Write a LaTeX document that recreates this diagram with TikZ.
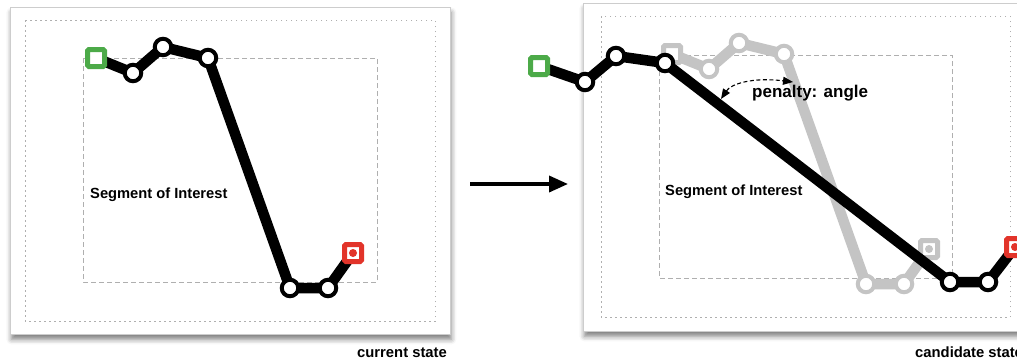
\documentclass[tikz,border=0pt]{standalone}
\usepackage{fontspec}
\setmainfont{Liberation Sans}
\usetikzlibrary{arrows.meta,shadows.blur}
\definecolor{sqgreen}{RGB}{76,170,72}
\definecolor{sqred}{RGB}{226,52,42}
\definecolor{ghost}{RGB}{196,196,196}
\definecolor{frame}{RGB}{205,205,205}
\definecolor{guide}{RGB}{175,175,175}
\tikzset{
  panel/.style={draw=frame,line width=0.8,fill=white,blur shadow={shadow xshift=1pt,shadow yshift=-5pt,shadow blur radius=5pt,shadow opacity=50}},
  outerguide/.style={draw=guide,line width=0.9,dash pattern=on 1.5 off 3.5},
  innerguide/.style={draw=guide,line width=0.9,dash pattern=on 5 off 3},
  track/.style={line width=10.5,line join=round,line cap=round},
  vtx/.style={circle,draw=#1,line width=4,fill=white,minimum size=16.5,inner sep=0},
  vtx/.default=black,
  startsq/.style={rectangle,draw=#1,line width=5,fill=white,minimum size=17,inner sep=0,rounded corners=1.5},
  endsq/.style={rectangle,draw=#1,line width=5,fill=white,minimum size=17,inner sep=0,rounded corners=1.5},
  lbl/.style={inner sep=0,font=\bfseries\fontsize{14.7}{17}\selectfont,anchor=base west},
  captiontext/.style={inner sep=0,font=\bfseries\fontsize{14.8}{17}\selectfont,anchor=base west},
}
\begin{document}
\begin{tikzpicture}[x=1pt,y=-1pt]
\useasboundingbox (0,0) rectangle (1017,362);
% panels
\node[panel,minimum width=440,minimum height=327,inner sep=0,anchor=north west] (pL) at (10,7) {};
\node[panel,minimum width=442,minimum height=328,inner sep=0,anchor=north west] (pR) at (583,3) {};
\draw[outerguide] (25,20) rectangle (435,321);
\draw[innerguide] (83,58) rectangle (377,282);
\draw[outerguide] (601,16) rectangle (1010,317);
\draw[innerguide] (659,55) rectangle (952,278);
\node[lbl] (soiL) at (90,198) {Segment of Interest};
\node[lbl] (soiR) at (665,195) {Segment of Interest};
% ---- left: current state
\coordinate (a0) at (96,58);
\coordinate (a1) at (133,73);
\coordinate (a2) at (163,47);
\coordinate (a3) at (208,58);
\coordinate (a4) at (290,288);
\coordinate (a5) at (328,288);
\coordinate (a6) at (353,253);
\draw[track] (a0) -- (a1) -- (a2) -- (a3) -- (a4) -- (a5) -- (a6);
\node[startsq=sqgreen] (sA) at (a0) {};
\foreach \i in {1,...,5} \node[vtx] (vA\i) at (a\i) {};
\node[endsq=sqred] (eA) at (a6) {};
\fill[sqred] (eA.center) circle (4);
% ---- right: ghost of current state
\coordinate (g0) at (672,54);
\coordinate (g1) at (709,69);
\coordinate (g2) at (739,43);
\coordinate (g3) at (784,54);
\coordinate (g4) at (866,284);
\coordinate (g5) at (904,284);
\coordinate (g6) at (929,249);
\draw[track,ghost] (g0) -- (g1) -- (g2) -- (g3) -- (g4) -- (g5) -- (g6);
\node[startsq=ghost] (sG) at (g0) {};
\foreach \i in {1,...,5} \node[vtx=ghost] (vG\i) at (g\i) {};
\node[endsq=ghost] (eG) at (g6) {};
\fill[ghost] (eG.center) circle (4);
% ---- right: candidate state
\coordinate (b0) at (539,66);
\coordinate (b1) at (585,82);
\coordinate (b2) at (616,56);
\coordinate (b3) at (665,63);
\coordinate (b4) at (950,282);
\coordinate (b5) at (988,282);
\coordinate (b6) at (1015,247);
\draw[track] (b0) -- (b1) -- (b2) -- (b3) -- (b4) -- (b5) -- (b6);
\node[startsq=sqgreen] (sB) at (b0) {};
\foreach \i in {1,...,5} \node[vtx] (vB\i) at (b\i) {};
\node[endsq=sqred] (eB) at (b6) {};
\fill[sqred] (eB.center) circle (4);
% angle penalty
\coordinate (angA) at (721,99);
\coordinate (angB) at (793,82);
\draw[line width=1.1,dash pattern=on 4 off 2.5,{Triangle[length=10,width=8]}-{Triangle[length=10,width=8]}]
  (angA) .. controls (731,84) and (752,77) .. (angB);
\node[inner sep=0,font=\bfseries\fontsize{17}{20}\selectfont,anchor=base west] (pen) at (752,97) {penalty: angle};
% transition arrow
\coordinate (trS) at (470,184);
\coordinate (trE) at (568,184);
\draw[line width=3.6,-{Triangle[length=19,width=16]}] (trS) -- (trE);
% captions
\node[captiontext] (capL) at (357,357) {current state};
\node[captiontext] (capR) at (915,357) {candidate state};
\end{tikzpicture}
\end{document}
